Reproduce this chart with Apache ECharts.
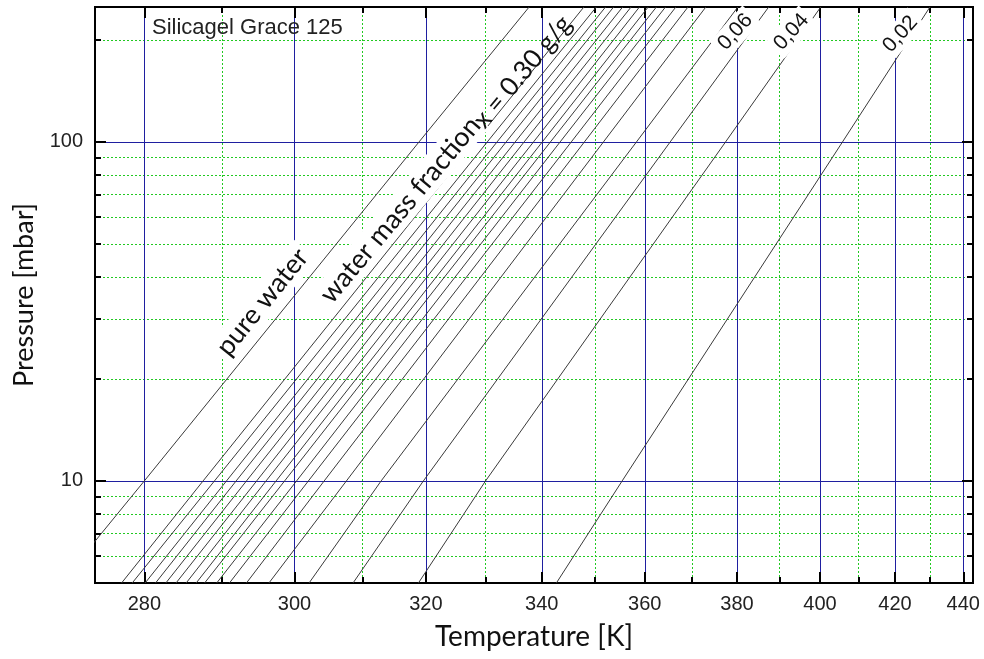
<!DOCTYPE html>
<html>
<head>
<meta charset="utf-8" />
<title>Silicagel Grace 125</title>
<script src="https://cdn.jsdelivr.net/npm/echarts@6/dist/echarts.min.js"></script>
</head>
<body style="margin:0;background:#fff">
<div id="main" style="width:984px;height:659px;"></div>
<script>
var pressures = [5, 10, 100, 250];
// pure water line, temperatures [K]
var waterT = [270.0, 280.0, 318.9, 337.7];
// isosteres, water mass fraction [g/g]
var loadings = ['0.34', '0.32', '0.30', '0.28', '0.26', '0.24', '0.22', '0.20', '0.18',
                '0.16', '0.14', '0.12', '0.10', '0.08', '0.06', '0.04', '0.02'];
var isoT = [
  [277.2, 287.5, 328.2, 347.9],
  [278.5, 289.0, 330.3, 350.3],
  [280.1, 290.6, 332.0, 352.1],
  [281.4, 291.9, 333.6, 353.7],
  [282.7, 293.3, 335.2, 355.5],
  [284.0, 294.7, 336.8, 357.2],
  [285.3, 296.0, 338.5, 358.9],
  [286.6, 297.4, 340.1, 360.7],
  [287.7, 298.6, 341.6, 362.4],
  [289.3, 300.3, 343.4, 364.3],
  [291.0, 302.0, 345.5, 366.5],
  [293.3, 304.3, 348.0, 369.1],
  [296.4, 307.6, 351.7, 373.0],
  [302.1, 312.9, 358.3, 380.2],
  [308.6, 319.6, 365.3, 387.4],
  [318.8, 330.0, 377.4, 400.2],
  [342.7, 355.4, 405.8, 430.0]
];
// axis ticks
var tMajor = [280, 300, 320, 340, 360, 380, 400, 420, 440];
var tMinor = [290, 310, 330, 350, 370, 390, 410, 430];
var pMajor = [10, 100];
var pMinor = [6, 7, 8, 9, 20, 30, 40, 50, 60, 70, 80, 90, 200];
var tRange = [274, 443];
var pRange = [5, 250];

// x axis is 1/T (Clausius-Clapeyron), y axis is log p
function tx(t) { return -1000 / t; }
function py(p) { return Math.log10(p); }

var blue = '#1f1fa0';
var green = '#22c922';
var labelFont = 'Liberation Sans, Arial, sans-serif';
var nameFont = 'Lato, Noto Sans, sans-serif';

function xAx(pos, ticks, major, labels) {
  return {
    type: 'value', position: pos, min: tx(tRange[0]), max: tx(tRange[1]),
    axisLine: { show: true, onZero: false, lineStyle: { color: '#000', width: 2 } },
    axisTick: { show: true, inside: true, length: major ? 11 : 6, customValues: ticks.map(tx),
                lineStyle: { color: '#000', width: 2 } },
    axisLabel: { show: labels, customValues: ticks.map(tx), margin: 11,
                 formatter: function (v) { return Math.round(-1000 / v); },
                 fontFamily: labelFont, fontSize: 20, color: '#222' },
    splitLine: { show: pos === 'bottom',
                 lineStyle: major ? { color: blue, width: 1, type: 'solid' }
                                  : { color: green, width: 1, type: [2, 2] } }
  };
}
function yAx(pos, ticks, major, labels) {
  return {
    type: 'value', position: pos, min: py(pRange[0]), max: py(pRange[1]),
    axisLine: { show: true, onZero: false, lineStyle: { color: '#000', width: 2 } },
    axisTick: { show: true, inside: true, length: major ? 11 : 6, customValues: ticks.map(py),
                lineStyle: { color: '#000', width: 2 } },
    axisLabel: { show: labels, customValues: ticks.map(py), margin: 12,
                 formatter: function (v) { return Math.round(Math.pow(10, v)); },
                 fontFamily: labelFont, fontSize: 20, color: '#222' },
    splitLine: { show: pos === 'left',
                 lineStyle: major ? { color: blue, width: 1, type: 'solid' }
                                  : { color: green, width: 1, type: [2, 2] } }
  };
}

var xAxes = [xAx('bottom', tMinor, false, false), xAx('bottom', tMajor, true, true),
             xAx('top', tMinor, false, false), xAx('top', tMajor, true, false)];
xAxes[1].name = 'Temperature [K]';
xAxes[1].nameLocation = 'middle';
xAxes[1].nameGap = 40;
xAxes[1].nameTextStyle = { fontFamily: nameFont, fontSize: 28, color: '#111' };

var yAxes = [yAx('left', pMinor, false, false), yAx('left', pMajor, true, true),
             yAx('right', pMinor, false, false), yAx('right', pMajor, true, false)];
yAxes[1].name = 'Pressure [mbar]';
yAxes[1].nameLocation = 'middle';
yAxes[1].nameGap = 57;
yAxes[1].nameTextStyle = { fontFamily: nameFont, fontSize: 27, color: '#111' };

function toData(temps) {
  return temps.map(function (t, i) { return [tx(t), py(pressures[i])]; });
}
function mark(t, p, text, rot, font, size, bg) {
  return {
    coord: [tx(t), py(p)], symbol: 'circle', symbolSize: 0,
    itemStyle: { color: 'transparent' },
    label: { show: true, position: 'inside', formatter: text, rotate: rot, opacity: 1,
             fontFamily: font, fontSize: size, color: '#111',
             backgroundColor: bg ? '#fff' : 'transparent', padding: bg ? [2, 4] : 0 }
  };
}

var lineStyle = { color: '#3a3a3a', width: 1 };
var series = [{
  name: 'pure water', type: 'line', data: toData(waterT), showSymbol: false,
  lineStyle: lineStyle, xAxisIndex: 1, yAxisIndex: 1, silent: true, z: 3,
  markPoint: { silent: true, z: 6, data: [
    mark(295.5, 33.7, 'pure water', 51, nameFont, 27, true),
    mark(315.9, 63.0, 'water mass fraction', 50, nameFont, 27, true),
    mark(336.5, 161, 'x = 0.30 g/g', 50, nameFont, 26, false),
    mark(379.6, 211, '0,06', 48, labelFont, 21, true),
    mark(392.9, 211, '0,04', 48, labelFont, 21, true),
    mark(421.5, 208, '0,02', 48, labelFont, 21, true)
  ] }
}];
loadings.forEach(function (x, i) {
  series.push({
    name: 'x = ' + x, type: 'line', data: toData(isoT[i]), showSymbol: false,
    lineStyle: lineStyle, xAxisIndex: 1, yAxisIndex: 1, silent: true, z: 3
  });
});

var chart = echarts.init(document.getElementById('main'));
chart.setOption({
  animation: false,
  backgroundColor: '#fff',
  title: { text: 'Silicagel Grace 125', left: 147, top: 12,
           textStyle: { fontFamily: labelFont, fontSize: 22, fontWeight: 'normal', color: '#222' } },
  grid: { left: 95, right: 11, top: 7, bottom: 76 },
  xAxis: xAxes,
  yAxis: yAxes,
  series: series
});
</script>
</body>
</html>
